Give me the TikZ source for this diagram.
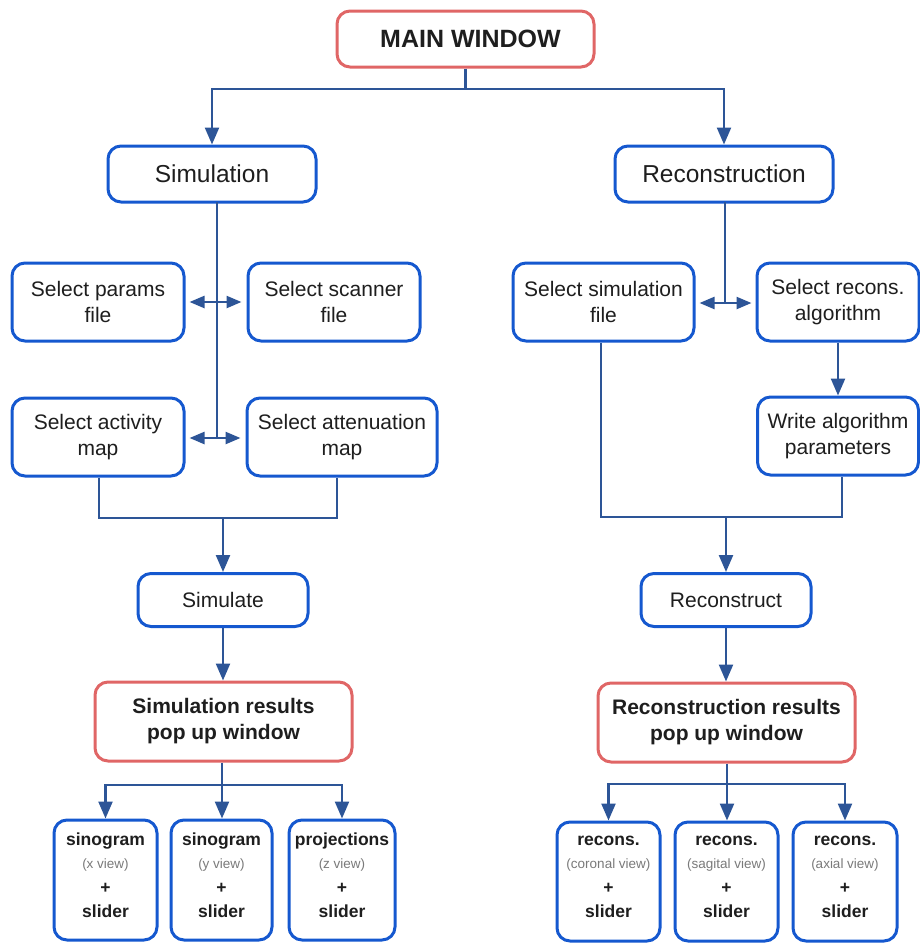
\documentclass[tikz,border=0pt]{standalone}
\usepackage{fontspec}
\setmainfont{Liberation Sans}
\usetikzlibrary{arrows.meta}
\definecolor{boxblue}{HTML}{1558CF}
\definecolor{boxred}{HTML}{E06666}
\definecolor{linec}{HTML}{2D5597}
\definecolor{textc}{HTML}{1E1E1E}
\definecolor{subc}{HTML}{7A7A7A}
\tikzset{
  bbox/.style={draw=boxblue, line width=3pt, rounded corners=13pt, fill=white,
    align=center, inner sep=0pt, text=textc, font=\fontsize{21}{26}\selectfont},
  rbox/.style={bbox, draw=boxred},
  conn/.style={draw=linec, line width=2.4pt},
  arr/.style={conn, -{Triangle[length=17pt,width=14pt]}},
  dbl/.style={conn, {Triangle[length=15pt,width=12pt]}-{Triangle[length=15pt,width=12pt]}},
}
\newcommand{\viewtext}[2]{{\bfseries\fontsize{17.5}{20}\selectfont #1}\\[-3pt]%
  {\fontsize{13.5}{15}\selectfont\color{subc}#2}\\[-1pt]%
  {\bfseries\fontsize{17.5}{20}\selectfont +}\\[-2pt]%
  {\bfseries\fontsize{17.5}{20}\selectfont slider\rule[-9pt]{0pt}{9pt}}}
\begin{document}
\begin{tikzpicture}[x=1pt,y=-1pt]
\useasboundingbox (0,0) rectangle (920,943);

% top level
\node[rbox, minimum width=257, minimum height=56, font=\bfseries\fontsize{25}{30}\selectfont] (main) at (465.5,39) {\hspace*{10pt}MAIN WINDOW};
\node[bbox, minimum width=208, minimum height=56, font=\fontsize{24.5}{30}\selectfont] (sim) at (212,174) {Simulation};
\node[bbox, minimum width=218, minimum height=56, font=\fontsize{24.5}{30}\selectfont] (rec) at (724,174) {Reconstruction};

% simulation inputs
\node[bbox, minimum width=172, minimum height=78] (par) at (98,302) {Select params\\file};
\node[bbox, minimum width=172, minimum height=78] (scan) at (334,302) {Select scanner\\file};
\node[bbox, minimum width=172, minimum height=78] (act) at (98,437) {Select activity\\map};
\node[bbox, minimum width=190, minimum height=78] (att) at (342,437) {Select attenuation\\map};

% reconstruction inputs
\node[bbox, minimum width=181, minimum height=78] (sfile) at (603.5,302) {Select simulation\\file};
\node[bbox, minimum width=162, minimum height=78] (alg) at (838,302) {Select recons.\\algorithm};
\node[bbox, minimum width=161, minimum height=78] (wpar) at (838,436) {Write algorithm\\parameters};

% actions
\node[bbox, minimum width=170, minimum height=53] (simu) at (223,600) {Simulate};
\node[bbox, minimum width=170, minimum height=53] (recon) at (726,600) {Reconstruct};

% result windows
\node[rbox, minimum width=257, minimum height=79, font=\bfseries\fontsize{21}{26}\selectfont] (sres) at (223.5,721.5) {Simulation results\\pop up window};
\node[rbox, minimum width=257, minimum height=79, font=\bfseries\fontsize{21}{26}\selectfont] (rres) at (726.5,722.5) {Reconstruction results\\pop up window};

% result views
\node[bbox, minimum width=103, minimum height=120] (b1) at (105.5,880) {\viewtext{sinogram}{(x view)}};
\node[bbox, minimum width=101, minimum height=120] (b2) at (221.5,880) {\viewtext{sinogram}{(y view)}};
\node[bbox, minimum width=106, minimum height=120] (b3) at (342,880) {\viewtext{projections}{(z view)}};
\node[bbox, minimum width=103, minimum height=119] (c1) at (608.5,881.5) {\viewtext{recons.}{(coronal view)}};
\node[bbox, minimum width=103, minimum height=119] (c2) at (726.5,881.5) {\viewtext{recons.}{(sagital view)}};
\node[bbox, minimum width=104, minimum height=119] (c3) at (845,881.5) {\viewtext{recons.}{(axial view)}};

% main window split
\coordinate (mj) at (465.5,89);
\draw[conn] (main.south) -- (mj);
\draw[arr] (mj) -| (sim.north);
\draw[arr] (mj) -| (rec.north);

% simulation input spine
\coordinate (st) at (217,202);
\coordinate (sb) at (217,438);
\draw[conn] (st) -- (sb);
\draw[dbl] ([xshift=4pt]par.east) -- ([xshift=-5pt]scan.west);
\draw[dbl] ([xshift=4pt,yshift=-1pt]act.east) -- ([xshift=-5pt,yshift=-1pt]att.west);

% reconstruction input spine
\coordinate (rt) at (725,202);
\coordinate (rb) at (725,303);
\draw[conn] (rt) -- (rb);
\draw[dbl] ([xshift=4pt,yshift=-1pt]sfile.east) -- ([xshift=-4pt,yshift=-1pt]alg.west);
\draw[arr] (alg.south) -- (wpar.north);

% merge into Simulate
\coordinate (sl) at (99,518);
\coordinate (sr) at (337,518);
\coordinate (sm) at (223,518);
\draw[conn] (act.south -| sl) -- (sl) -- (sr) -- (att.south -| sr);
\draw[arr] (sm) -- (simu.north);
\draw[arr] (simu.south) -- (sres.north -| simu.south);

% merge into Reconstruct
\coordinate (rl) at (601,517);
\coordinate (rr) at (842,517);
\coordinate (rm) at (726,517);
\draw[conn] (sfile.south -| rl) -- (rl) -- (rr) -- (wpar.south -| rr);
\draw[arr] (rm) -- (recon.north);
\draw[arr] (recon.south) -- (rres.north -| recon.south);

% simulation result views
\coordinate (sj) at (222,785);
\draw[conn] (sres.south -| sj) -- (sj);
\draw[arr] (sj) -| (b1.north);
\draw[arr] (sj) -| (b3.north);
\draw[arr] (sj) -- (b2.north -| sj);

% reconstruction result views
\coordinate (rj) at (727,784);
\draw[conn] (rres.south -| rj) -- (rj);
\draw[arr] (rj) -| (c1.north);
\draw[arr] (rj) -| (c3.north);
\draw[arr] (rj) -- (c2.north -| rj);
\end{tikzpicture}
\end{document}
